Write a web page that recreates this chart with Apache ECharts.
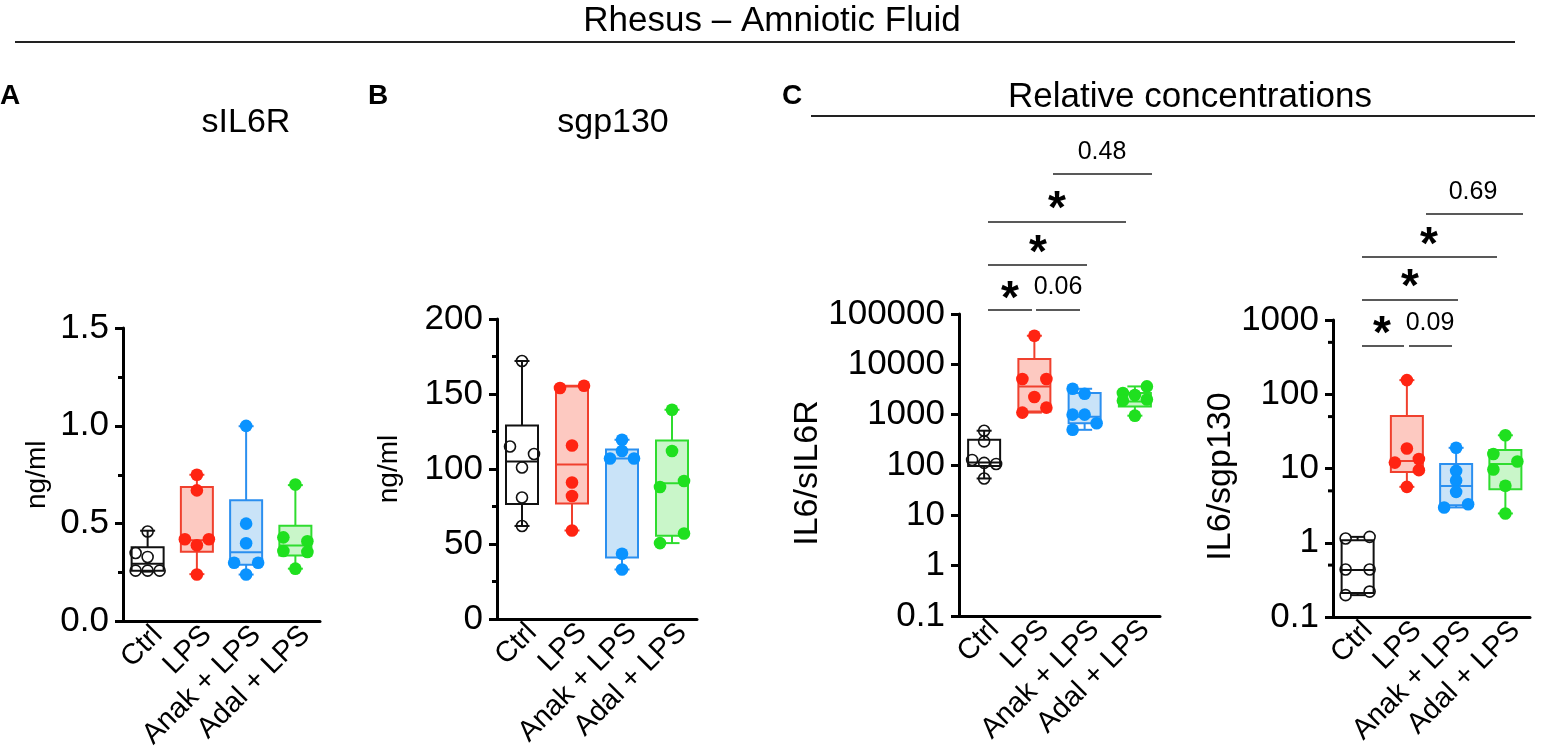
<!DOCTYPE html>
<html>
<head>
<meta charset="utf-8">
<script src="https://cdn.jsdelivr.net/npm/echarts@6/dist/echarts.min.js"></script>
<style>
  html, body { margin: 0; padding: 0; background: #fff; }
  #chart { width: 1542px; height: 752px; }
</style>
</head>
<body>
<div id="chart"></div>
<script>
// groups on every x axis
var groups = ['Ctrl', 'LPS', 'Anak + LPS', 'Adal + LPS'];

// A - sIL6R (ng/ml)
var sil6rPts = [
  [0.46, 0.35, 0.33, 0.26, 0.26, 0.26],
  [0.75, 0.67, 0.42, 0.42, 0.39, 0.24],
  [1.0, 0.5, 0.4, 0.3, 0.3, 0.24],
  [0.70, 0.43, 0.41, 0.36, 0.355, 0.27]
];
var sil6rJit = [[0, -1, 0, -1, 0, 1], [0, 0, -1, 1, 0, 0], [0, 0, 0, -1, 1, 0], [0, -1, 1, -1, 1, 0]];
// [min, q1, median, q3, max]
var sil6rBox = [
  [0.255, 0.26, 0.295, 0.38, 0.464],
  [0.242, 0.357, 0.415, 0.688, 0.75],
  [0.24, 0.29, 0.354, 0.62, 0.998],
  [0.27, 0.337, 0.388, 0.49, 0.697]
];

// B - sgp130 (ng/ml)
var sgpPts = [
  [172, 115, 110, 101, 81, 62],
  [154, 155.5, 115.7, 91, 82, 59],
  [119.5, 112, 107, 107, 43.5, 33],
  [139.5, 112, 88, 92, 57, 50.6]
];
var sgpJit = [[0, -1, 1, 0, 0, 0], [-1, 1, 0, 0, 0, 0], [0, 0, -1, 1, 0, 0], [0, 0, -1, 1, 1, -1]];
var sgpBox = [
  [62, 76.6, 105, 129, 172],
  [59, 77, 103, 155, 155.5],
  [33, 41, 107, 113, 119.5],
  [50.6, 55.5, 90.5, 119, 139.5]
];

// C - IL6/sIL6R
var ratioRPts = [
  [480, 295, 126, 110, 105, 54],
  [37000, 5100, 5100, 2240, 1380, 1100],
  [3270, 2600, 1000, 1000, 675, 500],
  [3640, 2700, 2450, 2000, 1900, 955]
];
var ratioRJit = [[0, 0, -1, 0, 1, 0], [0, -1, 1, 0, 1, -1], [-1, 0, -1, 0, 1, -1], [1, -1, 0, 1, -1, 0]];
var ratioRBox = [
  [54, 95, 112, 316, 480],
  [1100, 1150, 3630, 12700, 37000],
  [500, 675, 910, 2690, 3270],
  [955, 1450, 1830, 2700, 3640]
];

// C - IL6/sgp130
var ratioGPts = [
  [1.14, 1.2, 0.436, 0.436, 0.197, 0.22],
  [155, 18.6, 12, 13.4, 9.5, 5.66],
  [19, 9.3, 6.9, 4.85, 2.99, 3.3],
  [28, 15.7, 12.4, 9.7, 5.85, 2.48]
];
var ratioGJit = [[-1, 1, -1, 1, -1, 1], [0, 0, -1, 1, 1, 0], [0, 0, 0, 0, -1, 1], [0, -1, 1, -1, 0, 0]];
var ratioGBox = [
  [0.197, 0.21, 0.43, 1.08, 1.2],
  [5.66, 9.0, 12.6, 51, 155],
  [2.99, 3.2, 5.8, 11.5, 19],
  [2.48, 5.25, 11.5, 17.7, 28]
];
var ratioGMinor = [500, 50, 5, 0.5];

var FONT = '"Liberation Sans", Arial, sans-serif';
var strokeCol = ['#111111', '#f0402e', '#2b8fef', '#2fdc2f'];
var fillCol = ['rgba(255,255,255,0)', '#fdc9c1', '#c9e3f8', '#c9f6c9'];
var dotCol = ['none', '#ff2412', '#0a93ff', '#1fe01f'];

var chart = echarts.init(document.getElementById('chart'));

function boxSeries(idx, boxes) {
  return {
    type: 'custom', xAxisIndex: idx, yAxisIndex: idx, z: 2,
    data: boxes.map(function (b, i) { return [i].concat(b); }),
    encode: { x: 0, y: [1, 2, 3, 4, 5] },
    renderItem: function (params, api) {
      var c = api.value(0);
      var p = function (k) { return api.coord([c, api.value(k)]); };
      var mn = p(1), q1 = p(2), md = p(3), q3 = p(4), mx = p(5);
      var x = mn[0], hw = 16, cw = 7.5;
      var st = { stroke: strokeCol[c], lineWidth: 2 };
      return {
        type: 'group',
        children: [
          { type: 'line', shape: { x1: x, y1: q3[1], x2: x, y2: mx[1] }, style: st },
          { type: 'line', shape: { x1: x, y1: q1[1], x2: x, y2: mn[1] }, style: st },
          { type: 'line', shape: { x1: x - cw, y1: mx[1], x2: x + cw, y2: mx[1] }, style: st },
          { type: 'line', shape: { x1: x - cw, y1: mn[1], x2: x + cw, y2: mn[1] }, style: st },
          { type: 'rect', shape: { x: x - hw, y: q3[1], width: hw * 2, height: q1[1] - q3[1] },
            style: { fill: fillCol[c], stroke: strokeCol[c], lineWidth: 2 } },
          { type: 'line', shape: { x1: x - hw, y1: md[1], x2: x + hw, y2: md[1] }, style: st }
        ]
      };
    }
  };
}

function dotSeries(idx, pts, jit) {
  var data = [];
  pts.forEach(function (g, i) {
    g.forEach(function (v, j) { data.push([i, v, jit[i][j]]); });
  });
  return {
    type: 'custom', xAxisIndex: idx, yAxisIndex: idx, z: 3,
    data: data, encode: { x: 0, y: 1 },
    renderItem: function (params, api) {
      var c = api.value(0);
      var pt = api.coord([c, api.value(1)]);
      var open = c === 0;
      return {
        type: 'circle',
        shape: { cx: pt[0] + api.value(2) * 12, cy: pt[1], r: open ? 5.5 : 6.3 },
        style: open ? { fill: 'none', stroke: '#111', lineWidth: 1.6 } : { fill: dotCol[c] }
      };
    }
  };
}

function xAx(idx) {
  return {
    type: 'category', gridIndex: idx, data: groups,
    axisLine: { lineStyle: { color: '#000', width: 3 } },
    axisTick: { show: false },
    axisLabel: { rotate: 45, fontSize: 29, color: '#000', fontFamily: FONT,
      margin: -1, verticalAlign: 'top', interval: 0 },
    splitLine: { show: false }
  };
}

function yLin(idx, max, interval, dec, name, gap) {
  return {
    type: 'value', gridIndex: idx, min: 0, max: max, interval: interval,
    name: name, nameLocation: 'middle', nameGap: gap, nameRotate: 90,
    nameTextStyle: { fontSize: 28, color: '#000', fontFamily: FONT },
    axisLine: { show: true, lineStyle: { color: '#000', width: 3 } },
    axisTick: { show: true, length: 8, lineStyle: { width: 3, color: '#000' } },
    minorTick: { show: true, splitNumber: 2, length: 5, lineStyle: { width: 3, color: '#000' } },
    axisLabel: { fontSize: 35, color: '#000', fontFamily: FONT, margin: 14,
      formatter: function (v) { return v.toFixed(dec); } },
    splitLine: { show: false }
  };
}

function yLog(idx, min, max, name, gap) {
  return {
    type: 'log', logBase: 10, gridIndex: idx, min: min, max: max,
    name: name, nameLocation: 'middle', nameGap: gap, nameRotate: 90,
    nameTextStyle: { fontSize: 34, color: '#000', fontFamily: FONT, padding: [0, 16, 0, 0] },
    axisLine: { show: true, lineStyle: { color: '#000', width: 3 } },
    axisTick: { show: true, length: 8, lineStyle: { width: 3, color: '#000' } },
    axisLabel: { fontSize: 35, color: '#000', fontFamily: FONT, margin: 14,
      formatter: function (v) { return String(+Number(v).toPrecision(3)); } },
    splitLine: { show: false }
  };
}

function txt(x, y, s, size, weight, align) {
  return { type: 'text', x: x, y: y, z: 10,
    style: { text: s, fontSize: size, fontWeight: weight || 'normal', fontFamily: FONT,
      fill: '#000', textAlign: align || 'center', textVerticalAlign: 'middle' } };
}
function hline(x1, x2, y, w) {
  return { type: 'line', z: 10, shape: { x1: x1, y1: y, x2: x2, y2: y },
    style: { stroke: '#222', lineWidth: w || 1.6 } };
}
function star(x, y) { return txt(x, y + 10, '*', 46, 'bold'); }

var option = {
  animation: false,
  grid: [
    { left: 123, top: 328, width: 197, height: 295 },
    { left: 497, top: 319, width: 200, height: 300 },
    { left: 959, top: 314, width: 201, height: 302 },
    { left: 1333, top: 320, width: 197, height: 297 }
  ],
  xAxis: [xAx(0), xAx(1), xAx(2), xAx(3)],
  yAxis: [
    yLin(0, 1.5, 0.5, 1, 'ng/ml', 72),
    yLin(1, 200, 50, 0, 'ng/ml', 94),
    yLog(2, 0.1, 100000, 'IL6/sIL6R', 112),
    yLog(3, 0.1, 1000, 'IL6/sgp130', 84)
  ],
  series: [
    boxSeries(0, sil6rBox), dotSeries(0, sil6rPts, sil6rJit),
    boxSeries(1, sgpBox), dotSeries(1, sgpPts, sgpJit),
    boxSeries(2, ratioRBox), dotSeries(2, ratioRPts, ratioRJit),
    boxSeries(3, ratioGBox), dotSeries(3, ratioGPts, ratioGJit),
    {
      // 5x minor ticks on the IL6/sgp130 log axis
      type: 'custom', xAxisIndex: 3, yAxisIndex: 3, z: 4,
      data: ratioGMinor.map(function (v) { return [0, v]; }), encode: { x: 0, y: 1 },
      renderItem: function (params, api) {
        var pt = api.coord([0, api.value(1)]);
        var x0 = params.coordSys.x;
        return { type: 'line', shape: { x1: x0 - 5, y1: pt[1], x2: x0, y2: pt[1] },
          style: { stroke: '#000', lineWidth: 3 } };
      }
    }
  ],
  graphic: [
    txt(772, 21, 'Rhesus \u2013 Amniotic Fluid', 35),
    hline(15, 1515, 42, 2),
    txt(0, 96, 'A', 28, 'bold', 'left'),
    txt(368, 96, 'B', 28, 'bold', 'left'),
    txt(782, 96, 'C', 28, 'bold', 'left'),
    txt(246, 123, 'sIL6R', 34),
    txt(613, 123, 'sgp130', 34),
    txt(1190, 97, 'Relative concentrations', 35),
    hline(811, 1535, 116, 2),
    // IL6/sIL6R comparisons
    txt(1102, 152, '0.48', 25), hline(1053, 1152, 174),
    star(1057, 200), hline(988, 1126, 222),
    star(1038, 244), hline(988, 1087, 265),
    star(1010, 290), txt(1058, 287, '0.06', 25),
    hline(988, 1032, 310), hline(1036, 1080, 310),
    // IL6/sgp130 comparisons
    txt(1473, 192, '0.69', 25), hline(1426, 1523, 214),
    star(1429, 236), hline(1362, 1497, 257),
    star(1410, 278), hline(1362, 1458, 300),
    star(1382, 325), txt(1430, 323, '0.09', 25),
    hline(1362, 1404, 346), hline(1409, 1452, 346)
  ]
};

chart.setOption(option);
</script>
</body>
</html>
